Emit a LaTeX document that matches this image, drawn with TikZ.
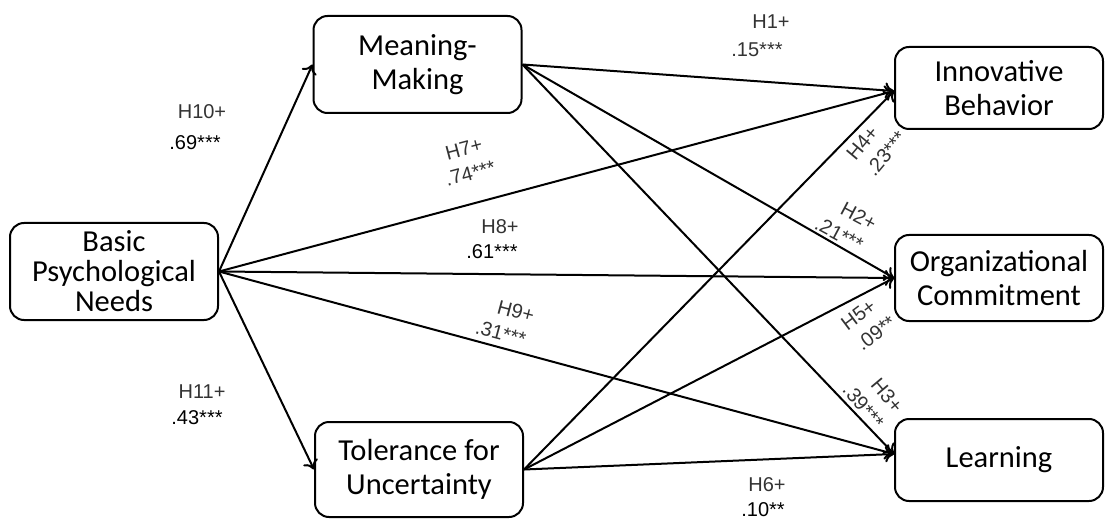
\documentclass[tikz,border=0pt]{standalone}
\usepackage{fontspec}
\setmainfont{Carlito}
\newfontfamily\hypfont{Liberation Sans}
\usetikzlibrary{arrows.meta}
\begin{document}
\begin{tikzpicture}[x=1pt,y=-1pt,
  construct/.style={draw, line width=2pt, rounded corners=14pt, align=center,
    inner sep=0pt, minimum width=208pt, font=\fontsize{30.5}{34}\selectfont},
  link/.style={line width=2pt, -{To[length=9pt,width=16pt]}},
  hyp/.style={font=\hypfont\fontsize{20}{24}\selectfont, text=black!80, inner sep=0pt},
  hypblock/.style={hyp, align=center, font=\hypfont\fontsize{20}{25}\selectfont}
]
\useasboundingbox (0,0) rectangle (1107,521);

% constructs
\node[construct, minimum height=97pt, font=\fontsize{30.5}{30}\selectfont] (B) at (114,271.5) {Basic\\Psychological\\Needs};
\node[construct, minimum height=97pt] (M) at (417.5,64.5) {Meaning-\\Making};
\node[construct, minimum height=95pt] (T) at (419,469.5) {Tolerance for\\Uncertainty};
\node[construct, minimum height=82pt] (I) at (999,88) {Innovative\\Behavior};
\node[construct, minimum height=86pt] (O) at (999,278) {Organizational\\Commitment};
\node[construct, minimum height=82pt] (L) at (999,460) {Learning};

% arrow end points on the outcome boxes
\coordinate (Iin) at ([yshift=-3pt]I.west);
\coordinate (Oin) at (O.west);
\coordinate (Lin) at ([yshift=6pt]L.west);

% paths
\draw[link] (B.east) -- (M.west);
\draw[link] (B.east) -- (T.west);
\draw[link] (B.east) -- (Iin);
\draw[link] (B.east) -- (Oin);
\draw[link] (B.east) -- (Lin);
\draw[link] (M.east) -- (Iin);
\draw[link] (M.east) -- (Oin);
\draw[link] (M.east) -- (Lin);
\draw[link] (T.east) -- (Iin);
\draw[link] (T.east) -- (Oin);
\draw[link] (T.east) -- (Lin);

% hypotheses and coefficients, level
\node[hyp] (h10) at (202,112) {H10+};
\node[hyp, text=black] (c10) at (195,143) {.69***};
\node[hyp] (h11) at (202,392) {H11+};
\node[hyp, text=black] (c11) at (197,418) {.43***};
\node[hyp] (h1) at (771,22) {H1+};
\node[hyp] (c1) at (757,50) {.15***};
\node[hyp] (h6) at (767,485) {H6+};
\node[hyp, text=black] (c6) at (763,510) {.10**};
\node[hyp] (h8) at (500,227) {H8+};
\node[hyp, text=black] (c8) at (492,252) {.61***};

% hypotheses and coefficients, set along their paths
\node[hypblock, rotate=15] (h7) at (467,161) {H7+\\.74***};
\node[hypblock, rotate=-15] (h9) at (504,321) {\hspace*{18pt}H9+\\.31***};
\node[hypblock, rotate=50] (h4) at (872,151) {H4+\\\hspace*{14pt}.23***};
\node[hypblock, rotate=-28] (h2) at (845,223) {\hspace*{18pt}H2+\\.21***};
\node[hypblock, rotate=37] (h5) at (866,325) {H5+\\\hspace*{6pt}.09**};
\node[hypblock, rotate=-50] (h3) at (873,398) {\hspace*{14pt}H3+\\.39***};
\end{tikzpicture}
\end{document}
